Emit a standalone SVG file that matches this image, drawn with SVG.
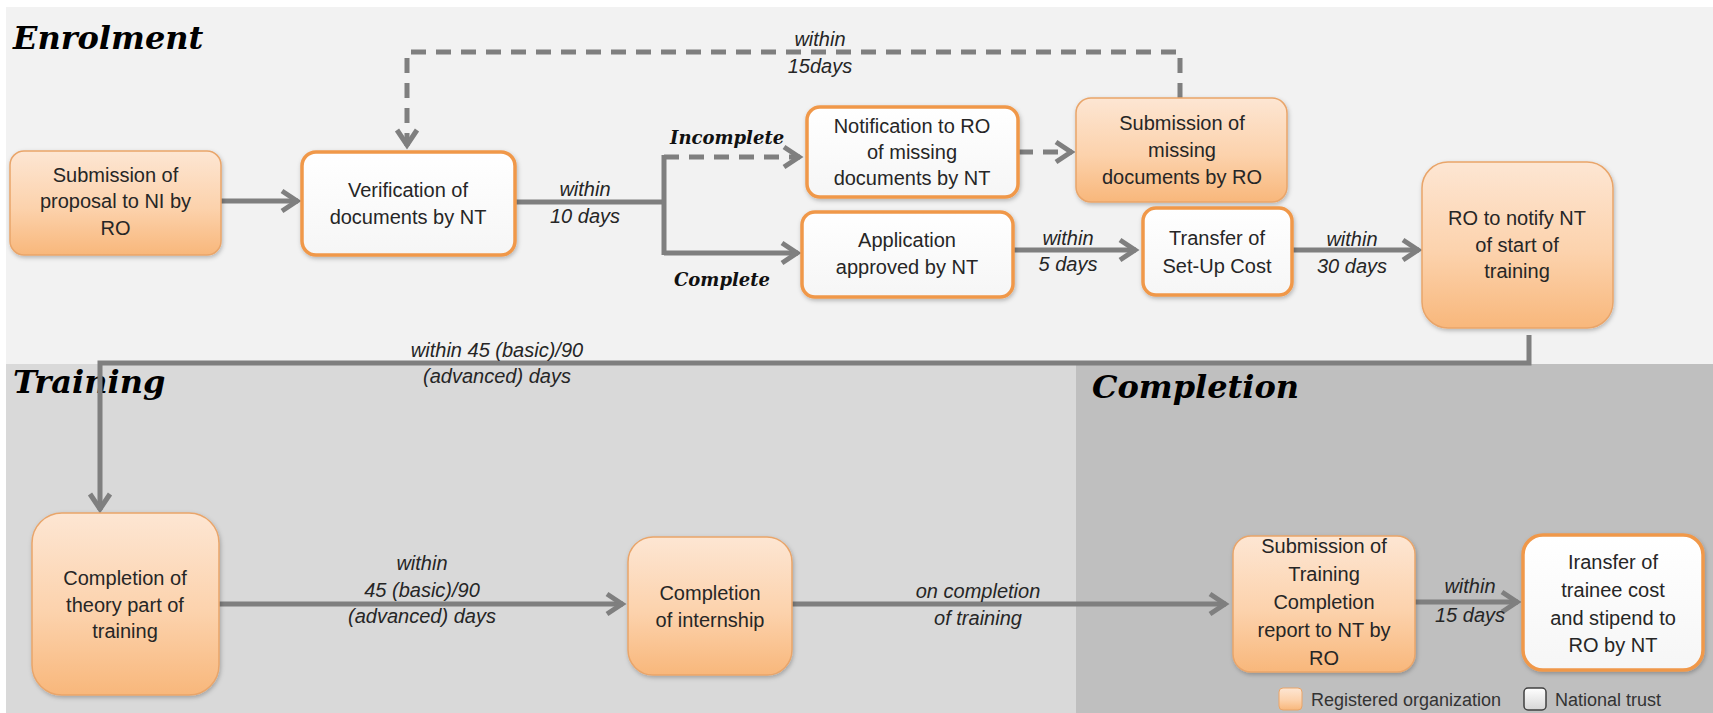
<svg xmlns="http://www.w3.org/2000/svg" width="1713" height="713" viewBox="0 0 1713 713">
<style>
.title{font-family:"DejaVu Serif","Liberation Serif",serif;font-weight:bold;font-style:italic;font-size:32px;fill:#000}
.branch{font-family:"DejaVu Serif","Liberation Serif",serif;font-weight:bold;font-style:italic;font-size:18px;fill:#111}
.nt{font-family:"Liberation Sans",Arial,sans-serif;font-size:20px;fill:#262626;text-anchor:middle}
.lbl{font-family:"Liberation Sans",Arial,sans-serif;font-style:italic;font-size:20px;fill:#262626;text-anchor:middle}
.leg{font-family:"Liberation Sans",Arial,sans-serif;font-size:18px;fill:#333}
.org{fill:url(#gOrg);stroke:#e9a56a;stroke-width:1.5;filter:url(#sh)}
.nat{fill:url(#gNat);stroke:#f0984a;stroke-width:3.5;filter:url(#sh)}
.ln{fill:none;stroke:#7f7f7f;stroke-width:5}
.arr{marker-end:url(#ah)}
.dash{stroke-dasharray:15 10}
</style>
<defs>
<linearGradient id="gOrg" x1="0" y1="0" x2="0" y2="1">
<stop offset="0" stop-color="#fde6d3"/>
<stop offset="0.55" stop-color="#fcd2ac"/>
<stop offset="1" stop-color="#f8b77b"/>
</linearGradient>
<linearGradient id="gNat" x1="0" y1="0" x2="0" y2="1">
<stop offset="0" stop-color="#ffffff"/>
<stop offset="1" stop-color="#f6f6f6"/>
</linearGradient>
<linearGradient id="gLegW" x1="0" y1="0" x2="0" y2="1">
<stop offset="0" stop-color="#ffffff"/>
<stop offset="1" stop-color="#d6d6d6"/>
</linearGradient>
<filter id="sh" x="-10%" y="-10%" width="125%" height="130%">
<feDropShadow dx="1" dy="2" stdDeviation="2" flood-color="#000" flood-opacity="0.25"/>
</filter>
<marker id="ah" markerUnits="userSpaceOnUse" markerWidth="24" markerHeight="26" viewBox="0 0 24 26" refX="20" refY="13" orient="auto">
<path d="M4,3 L19,13 L4,23" fill="none" stroke="#7f7f7f" stroke-width="5" stroke-dasharray="none" stroke-linejoin="miter"/>
</marker>
</defs>

<g id="panels">
<rect x="0" y="0" width="1713" height="713" fill="#ffffff"/>
<rect x="6" y="7" width="1707" height="358" fill="#f2f2f2"/>
<rect x="6" y="364" width="1070" height="349" fill="#d9d9d9"/>
<rect x="1076" y="364" width="637" height="349" fill="#bfbfbf"/>
<text class="title" x="13" y="49">Enrolment</text>
<text class="title" x="13" y="393">Training</text>
<text class="title" x="1092" y="398">Completion</text>
</g>

<g id="connectors">
<line class="ln arr" x1="221" y1="201" x2="298" y2="201"/>
<polyline class="ln" points="515,202 664,202"/>
<line class="ln" x1="664" y1="155" x2="664" y2="255"/>
<polyline class="ln dash arr" points="664,157 800,157"/>
<polyline class="ln arr" points="664,253 798,253"/>
<polyline class="ln dash arr" points="1018,152 1072,152"/>
<polyline class="ln dash arr" points="1180,98 1180,52 407,52 407,146"/>
<line class="ln arr" x1="1013" y1="250" x2="1136" y2="250"/>
<line class="ln arr" x1="1292" y1="250" x2="1419" y2="250"/>
<polyline class="ln arr" points="1529,335 1529,363 100,363 100,510"/>
<line class="ln arr" x1="219" y1="604" x2="623" y2="604"/>
<line class="ln arr" x1="792" y1="604" x2="1226" y2="604"/>
<line class="ln arr" x1="1415" y1="602" x2="1518" y2="602"/>
<text class="lbl" x="820" y="46">within</text>
<text class="lbl" x="820" y="73">15days</text>
<text class="lbl" x="585" y="196">within</text>
<text class="lbl" x="585" y="223">10 days</text>
<text class="branch" x="670" y="144">Incomplete</text>
<text class="branch" x="674" y="286">Complete</text>
<text class="lbl" x="1068" y="245">within</text>
<text class="lbl" x="1068" y="271">5 days</text>
<text class="lbl" x="1352" y="246">within</text>
<text class="lbl" x="1352" y="273">30 days</text>
<text class="lbl" x="497" y="357">within 45 (basic)/90</text>
<text class="lbl" x="497" y="383">(advanced) days</text>
<text class="lbl" x="422" y="570">within</text>
<text class="lbl" x="422" y="597">45 (basic)/90</text>
<text class="lbl" x="422" y="623">(advanced) days</text>
<text class="lbl" x="978" y="598">on completion</text>
<text class="lbl" x="978" y="625">of training</text>
<text class="lbl" x="1470" y="593">within</text>
<text class="lbl" x="1470" y="622">15 days</text>
</g>

<g id="n-submission-proposal">
<rect class="org" x="10" y="151" width="211" height="104" rx="14"/>
<text class="nt" x="115.5" y="182">Submission of</text>
<text class="nt" x="115.5" y="208">proposal to NI by</text>
<text class="nt" x="115.5" y="235">RO</text>
</g>

<g id="n-verification">
<rect class="nat" x="302" y="152" width="213" height="103" rx="14"/>
<text class="nt" x="408" y="197">Verification of</text>
<text class="nt" x="408" y="224">documents by NT</text>
</g>

<g id="n-notification">
<rect class="nat" x="807" y="107" width="211" height="90" rx="13"/>
<text class="nt" x="912" y="133">Notification to RO</text>
<text class="nt" x="912" y="159">of missing</text>
<text class="nt" x="912" y="185">documents by NT</text>
</g>

<g id="n-submission-missing">
<rect class="org" x="1076" y="98" width="211" height="104" rx="15"/>
<text class="nt" x="1182" y="130">Submission of</text>
<text class="nt" x="1182" y="157">missing</text>
<text class="nt" x="1182" y="184">documents by RO</text>
</g>

<g id="n-application">
<rect class="nat" x="802" y="212" width="211" height="85" rx="13"/>
<text class="nt" x="907" y="247">Application</text>
<text class="nt" x="907" y="274">approved by NT</text>
</g>

<g id="n-transfer-setup">
<rect class="nat" x="1143" y="208" width="149" height="87" rx="13"/>
<text class="nt" x="1217" y="245">Transfer of</text>
<text class="nt" x="1217" y="273">Set-Up Cost</text>
</g>

<g id="n-ro-notify">
<rect class="org" x="1422" y="162" width="191" height="166" rx="26"/>
<text class="nt" x="1517" y="225">RO to notify NT</text>
<text class="nt" x="1517" y="252">of start of</text>
<text class="nt" x="1517" y="278">training</text>
</g>

<g id="n-theory">
<rect class="org" x="32" y="513" width="187" height="182" rx="30"/>
<text class="nt" x="125" y="585">Completion of</text>
<text class="nt" x="125" y="612">theory part of</text>
<text class="nt" x="125" y="638">training</text>
</g>

<g id="n-internship">
<rect class="org" x="628" y="537" width="164" height="138" rx="25"/>
<text class="nt" x="710" y="600">Completion</text>
<text class="nt" x="710" y="627">of internship</text>
</g>

<g id="n-submission-report">
<rect class="org" x="1233" y="536" width="182" height="136" rx="18"/>
<text class="nt" x="1324" y="553">Submission of</text>
<text class="nt" x="1324" y="581">Training</text>
<text class="nt" x="1324" y="609">Completion</text>
<text class="nt" x="1324" y="637">report to NT by</text>
<text class="nt" x="1324" y="665">RO</text>
</g>

<g id="n-transfer-trainee">
<rect class="nat" x="1523" y="535" width="180" height="135" rx="20"/>
<text class="nt" x="1613" y="569">Iransfer of</text>
<text class="nt" x="1613" y="597">trainee  cost</text>
<text class="nt" x="1613" y="625">and stipend to</text>
<text class="nt" x="1613" y="652">RO by NT</text>
</g>

<g id="legend">
<rect x="1279" y="688" width="23" height="22" rx="4" fill="url(#gOrg)" stroke="#e9a56a" stroke-width="1"/>
<text class="leg" x="1311" y="706">Registered  organization</text>
<rect x="1524" y="688" width="22" height="22" rx="4" fill="url(#gLegW)" stroke="#404040" stroke-width="1.5"/>
<text class="leg" x="1555" y="706">National trust</text>
</g>
</svg>
